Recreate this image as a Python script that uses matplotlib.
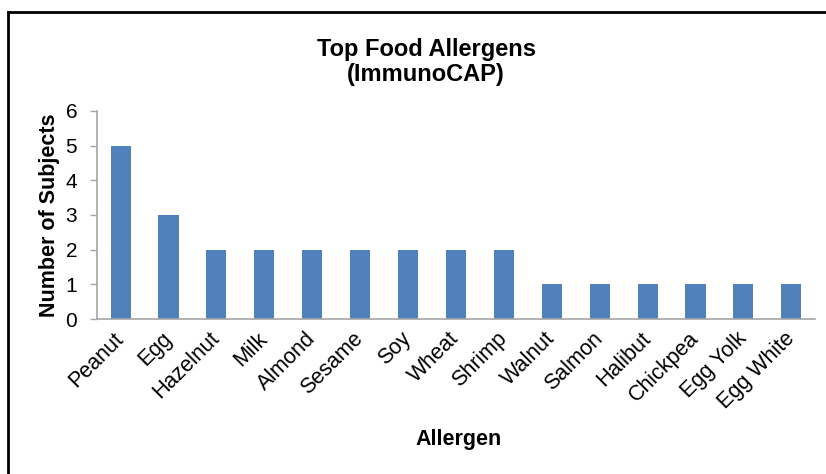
import matplotlib.pyplot as plt
from matplotlib.lines import Line2D

plt.rcParams['font.family'] = ['Liberation Sans', 'DejaVu Sans']

allergens = ['Peanut', 'Egg', 'Hazelnut', 'Milk', 'Almond', 'Sesame', 'Soy',
             'Wheat', 'Shrimp', 'Walnut', 'Salmon', 'Halibut', 'Chickpea',
             'Egg Yolk', 'Egg White']
subjects = [5, 3, 2, 2, 2, 2, 2, 2, 2, 1, 1, 1, 1, 1, 1]

fig = plt.figure(figsize=(8.26, 4.74), dpi=100)
ax = fig.add_axes([0.117, 0.327, 0.870, 0.439])

ax.bar(range(len(allergens)), subjects, width=0.42, color='#4F81BD')

ax.set_xlim(-0.5, len(allergens) - 0.5)
ax.set_ylim(0, 6)
ax.set_yticks(range(7))
ax.set_xticks(range(len(allergens)))
ax.set_xticklabels(allergens, rotation=45, ha='right', va='center',
                   rotation_mode='anchor', fontsize=15.5)
ax.tick_params(axis='y', labelsize=15, color='#A6A6A6', length=5, width=1,
               pad=9)
ax.tick_params(axis='x', length=0, pad=12)

for s in ['top', 'right']:
    ax.spines[s].set_visible(False)
for s in ['left', 'bottom']:
    ax.spines[s].set_color('#A6A6A6')
    ax.spines[s].set_linewidth(1.2)

ax.set_ylabel('Number of Subjects', fontsize=15.5, fontweight='bold',
              labelpad=4)
fig.text(0.555, 0.072, 'Allergen', fontsize=15.5, fontweight='bold',
         ha='center', va='center')
fig.text(0.516, 0.87, 'Top Food Allergens\n(ImmunoCAP)', fontsize=17,
         fontweight='bold', ha='center', va='center', linespacing=1.1)

# outer frame (top and left edges)
fig.add_artist(Line2D([0.0097, 1.0], [0.975, 0.975], color='black', lw=2))
fig.add_artist(Line2D([0.0097, 0.0097], [0.0, 0.975], color='black', lw=2))

fig.savefig('out.png', dpi=100)
